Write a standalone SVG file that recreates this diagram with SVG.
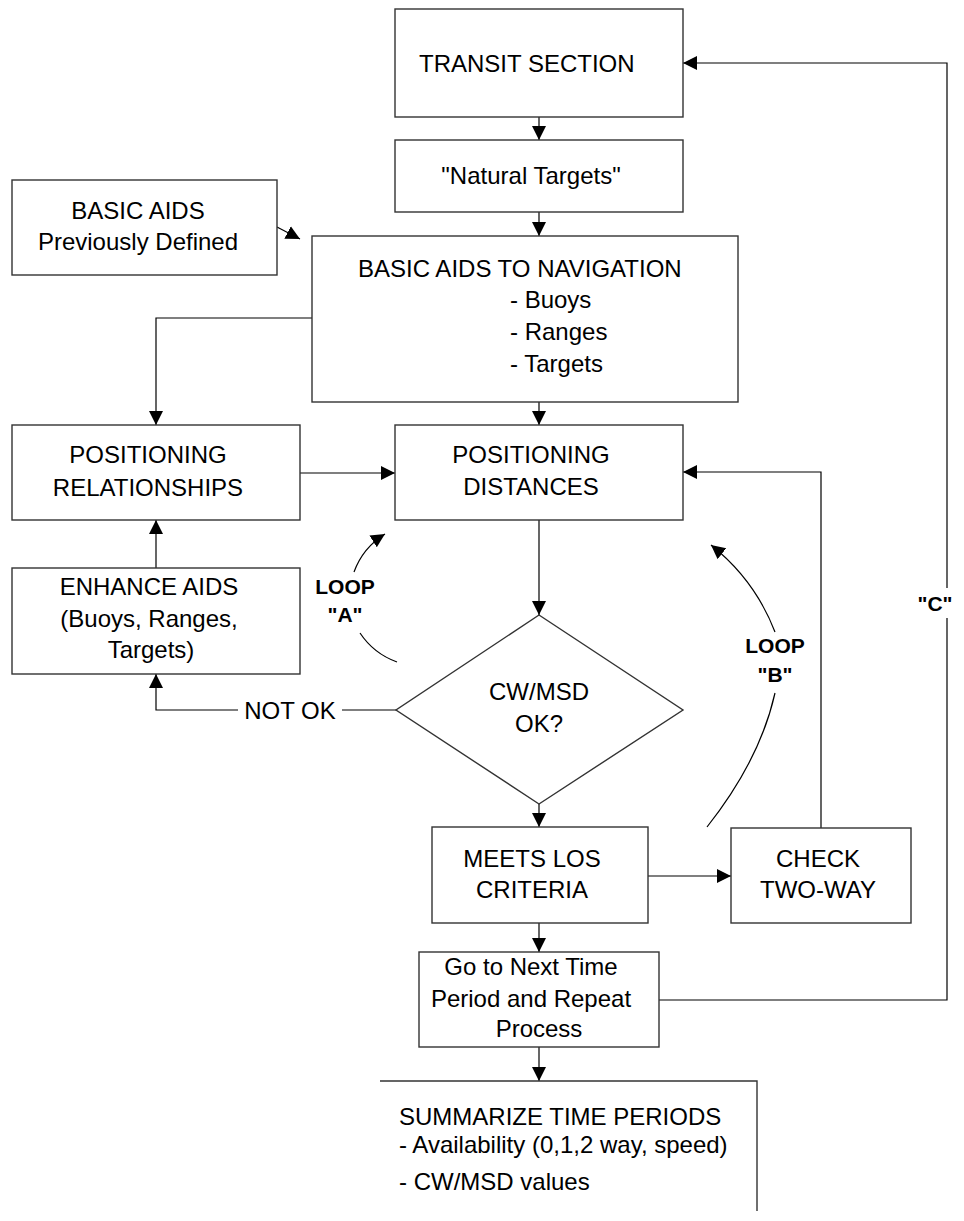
<svg xmlns="http://www.w3.org/2000/svg" width="964" height="1221" viewBox="0 0 964 1221">
<style>
.box{fill:#fff;stroke:#333;stroke-width:1.4}
.ln{fill:none;stroke:#000;stroke-width:1.2}
.t{font-family:"Liberation Sans",Arial,sans-serif;font-size:24px;fill:#000}
.c{text-anchor:middle}
.b{font-family:"Liberation Sans",Arial,sans-serif;font-size:21px;font-weight:bold;fill:#000;text-anchor:middle}
</style>
<defs>
<marker id="ah" markerUnits="userSpaceOnUse" markerWidth="16" markerHeight="16" refX="14" refY="7.5" orient="auto">
<path d="M0,0.5 L14,7.5 L0,14.5 z" fill="#000"/>
</marker>
</defs>
<rect width="964" height="1221" fill="#fff"/>
<g id="connectors">
<line class="ln" x1="539" y1="117" x2="539" y2="140" marker-end="url(#ah)"/>
<line class="ln" x1="539" y1="212" x2="539" y2="236" marker-end="url(#ah)"/>
<line class="ln" x1="277" y1="227" x2="300" y2="239" marker-end="url(#ah)"/>
<polyline class="ln" points="312,318 156,318 156,425" marker-end="url(#ah)"/>
<line class="ln" x1="539" y1="402" x2="539" y2="425" marker-end="url(#ah)"/>
<line class="ln" x1="300" y1="473" x2="395" y2="473" marker-end="url(#ah)"/>
<line class="ln" x1="156" y1="568" x2="156" y2="520" marker-end="url(#ah)"/>
<line class="ln" x1="539" y1="520" x2="539" y2="615" marker-end="url(#ah)"/>
<polyline class="ln" points="396,710 156,710 156,674" marker-end="url(#ah)"/>
<line class="ln" x1="539" y1="804" x2="539" y2="827" marker-end="url(#ah)"/>
<line class="ln" x1="648" y1="876" x2="731" y2="876" marker-end="url(#ah)"/>
<polyline class="ln" points="821,828 821,472 683,472" marker-end="url(#ah)"/>
<line class="ln" x1="539" y1="923" x2="539" y2="952" marker-end="url(#ah)"/>
<line class="ln" x1="539" y1="1047" x2="539" y2="1081" marker-end="url(#ah)"/>
<polyline class="ln" points="659,1000 947,1000 947,63 683,63" marker-end="url(#ah)"/>
<path class="ln" d="M397,662 A75,75 0 0 1 360,633"/>
<path class="ln" d="M354,572 A75,75 0 0 1 385,534" marker-end="url(#ah)"/>
<path class="ln" d="M707,827 Q760,760 775,693"/>
<path class="ln" d="M775,632 Q755,580 711,545" marker-end="url(#ah)"/>
<rect x="238" y="700" width="104" height="22" fill="#fff"/>
<text class="t c" x="290" y="719">NOT OK</text>
<rect x="915" y="588" width="40" height="30" fill="#fff"/>
<text class="b" x="935" y="611">"C"</text>
<text class="b" x="345" y="594">LOOP</text>
<text class="b" x="345" y="622">"A"</text>
<text class="b" x="775" y="653">LOOP</text>
<text class="b" x="775" y="682">"B"</text>
</g>
<g id="transit">
<rect class="box" x="395" y="9" width="288" height="108"/>
<text class="t" x="419" y="72">TRANSIT SECTION</text>
</g>
<g id="natural">
<rect class="box" x="395" y="140" width="288" height="72"/>
<text class="t c" x="531" y="184">"Natural Targets"</text>
</g>
<g id="basicprev">
<rect class="box" x="12" y="180" width="265" height="95"/>
<text class="t c" x="138" y="219">BASIC AIDS</text>
<text class="t c" x="138" y="250">Previously Defined</text>
</g>
<g id="basicnav">
<rect class="box" x="312" y="236" width="426" height="166"/>
<text class="t" x="358" y="277">BASIC AIDS TO NAVIGATION</text>
<text class="t" x="510" y="308">- Buoys</text>
<text class="t" x="510" y="340">- Ranges</text>
<text class="t" x="510" y="372">- Targets</text>
</g>
<g id="posrel">
<rect class="box" x="12" y="425" width="288" height="95"/>
<text class="t c" x="148" y="463">POSITIONING</text>
<text class="t c" x="148" y="496">RELATIONSHIPS</text>
</g>
<g id="posdist">
<rect class="box" x="395" y="425" width="288" height="95"/>
<text class="t c" x="531" y="463">POSITIONING</text>
<text class="t c" x="531" y="495">DISTANCES</text>
</g>
<g id="enhance">
<rect class="box" x="12" y="568" width="288" height="106"/>
<text class="t c" x="149" y="595">ENHANCE AIDS</text>
<text class="t c" x="149" y="627">(Buoys, Ranges,</text>
<text class="t c" x="151" y="658">Targets)</text>
</g>
<g id="decision">
<polygon class="box" points="539,615 683,710 539,804 396,710"/>
<text class="t c" x="539" y="700">CW/MSD</text>
<text class="t c" x="539" y="732">OK?</text>
</g>
<g id="meetslos">
<rect class="box" x="432" y="827" width="216" height="96"/>
<text class="t c" x="532" y="867">MEETS LOS</text>
<text class="t c" x="532" y="898">CRITERIA</text>
</g>
<g id="checktwoway">
<rect class="box" x="731" y="828" width="180" height="95"/>
<text class="t c" x="818" y="867">CHECK</text>
<text class="t c" x="818" y="898">TWO-WAY</text>
</g>
<g id="nexttime">
<rect class="box" x="419" y="952" width="240" height="95"/>
<text class="t c" x="531" y="975">Go to Next Time</text>
<text class="t c" x="531" y="1007">Period and Repeat</text>
<text class="t c" x="539" y="1037">Process</text>
</g>
<g id="summarize">
<polyline class="box" style="fill:none" points="380,1081 757,1081 757,1211"/>
<text class="t" x="399" y="1125">SUMMARIZE TIME PERIODS</text>
<text class="t" x="399" y="1153">- Availability (0,1,2 way, speed)</text>
<text class="t" x="399" y="1190">- CW/MSD values</text>
</g>
</svg>
